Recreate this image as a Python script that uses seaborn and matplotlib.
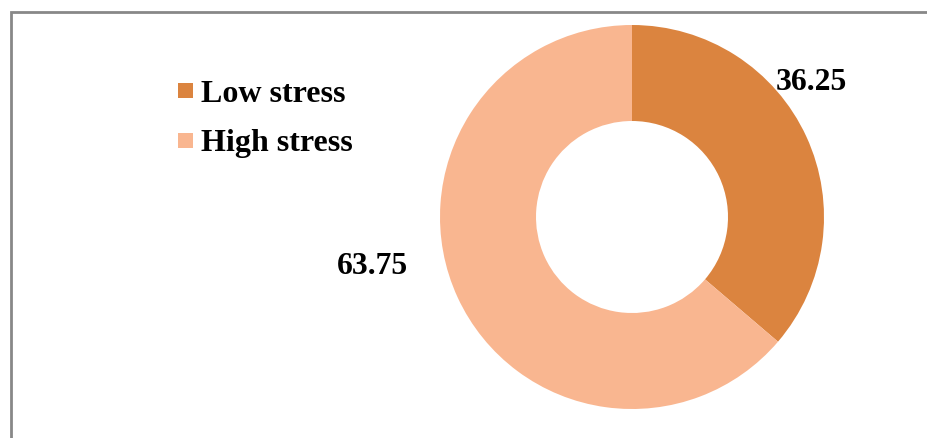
import matplotlib
matplotlib.use("Agg")
import matplotlib.pyplot as plt
import seaborn as sns
from matplotlib.patches import Rectangle

categories = ["Low stress", "High stress"]
values = [36.25, 63.75]
colors = ["#DB843F", "#F9B690"]

sns.set_style("white")
plt.rcParams["font.family"] = ["Liberation Serif", "DejaVu Serif"]

W, H = 928, 439
fig = plt.figure(figsize=(W / 100, H / 100), dpi=100)

# border (chart area frame)
fig.patches.append(Rectangle((11 / W, -0.1), 1.2, (H - 13) / H + 0.1,
                             transform=fig.transFigure, fill=False,
                             edgecolor="#888888", linewidth=2))

cx, cy, r = 632, 218, 192
ax = fig.add_axes([(cx - r) / W, (H - cy - r) / H, 2 * r / W, 2 * r / H])
wedges, _ = ax.pie(values, colors=colors, startangle=90, counterclock=False,
                   radius=1, wedgeprops=dict(width=0.5, linewidth=0))
ax.set_xlim(-1, 1)
ax.set_ylim(-1, 1)
ax.axis("off")

# data labels
label_pos = [(811, 82), (372, 267)]
for (px, py), v in zip(label_pos, values):
    fig.text(px / W, 1 - py / H, f"{v:.2f}", ha="center", va="center",
             fontsize=22.8, fontweight="bold", color="black")

# legend
leg_y = [92, 142]
for cat, col, y in zip(categories, colors, leg_y):
    fig.patches.append(Rectangle((178 / W, 1 - (y + 7) / H), 15 / W, 15 / H,
                                 transform=fig.transFigure, facecolor=col,
                                 edgecolor="none"))
    fig.text(201 / W, 1 - (y + 2) / H, cat, ha="left", va="center",
             fontsize=23, fontweight="bold", color="black")

fig.savefig("out.png", dpi=100, facecolor="white")
